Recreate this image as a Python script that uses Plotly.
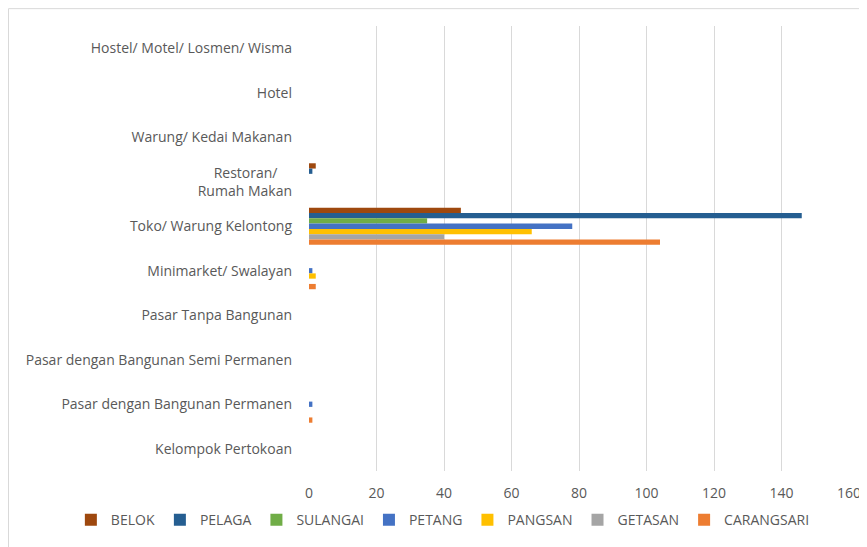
import plotly.graph_objects as go

# categories, top to bottom as in the chart
categories = [
    "Hostel/ Motel/ Losmen/ Wisma",
    "Hotel",
    "Warung/ Kedai Makanan",
    "Restoran/\u00a0\u00a0\u00a0\u00a0<br>Rumah Makan",
    "Toko/ Warung Kelontong",
    "Minimarket/ Swalayan",
    "Pasar Tanpa Bangunan",
    "Pasar dengan Bangunan Semi Permanen",
    "Pasar dengan Bangunan Permanen",
    "Kelompok Pertokoan",
]

belok = [0, 0, 0, 2, 45, 0, 0, 0, 0, 0]
pelaga = [0, 0, 0, 1, 146, 0, 0, 0, 0, 0]
sulangai = [0, 0, 0, 0, 35, 0, 0, 0, 0, 0]
petang = [0, 0, 0, 0, 78, 1, 0, 0, 1, 0]
pangsan = [0, 0, 0, 0, 66, 2, 0, 0, 0, 0]
getasan = [0, 0, 0, 0, 40, 0, 0, 0, 0, 0]
carangsari = [0, 0, 0, 0, 104, 2, 0, 0, 1, 0]

series = [
    ("BELOK", belok, "#9E480E"),
    ("PELAGA", pelaga, "#255E91"),
    ("SULANGAI", sulangai, "#70AD47"),
    ("PETANG", petang, "#4472C4"),
    ("PANGSAN", pangsan, "#FFC000"),
    ("GETASAN", getasan, "#A5A5A5"),
    ("CARANGSARI", carangsari, "#ED7D31"),
]

fig = go.Figure()
for name, vals, color in series:
    fig.add_trace(go.Bar(
        y=categories, x=vals, name=name, orientation="h",
        marker=dict(color=color, line=dict(width=0)),
    ))

# page body has an 8px margin, so the figure is a bit smaller than the window
fig.update_layout(
    width=859, height=539,
    margin=dict(l=301, r=18, t=18, b=75),
    paper_bgcolor="white", plot_bgcolor="white",
    barmode="group", bargap=0.17, bargroupgap=0,
    font=dict(family="Open Sans", size=14, color="#595959"),
    # x < 0 with left anchor lets the legend use the full width on one row
    legend=dict(orientation="h", x=-0.441, xanchor="left", y=-0.108, yanchor="middle",
                font=dict(size=14, color="#595959"), traceorder="normal",
                itemwidth=30),
    xaxis=dict(range=[0, 160], dtick=20, showgrid=True, gridcolor="#D9D9D9",
               gridwidth=1, zeroline=False, showline=False, ticks="",
               ticklabelstandoff=12, automargin=False),
    yaxis=dict(autorange="reversed", showgrid=False, zeroline=False,
               showline=False, ticks="", ticklabelstandoff=16, automargin=False),
    shapes=[dict(type="rect", xref="paper", yref="paper",
                 x0=-0.5565, x1=1.2, y0=-0.3, y1=1.039,
                 line=dict(color="#D9D9D9", width=1), layer="below")],
)

fig.write_html("out.html")
